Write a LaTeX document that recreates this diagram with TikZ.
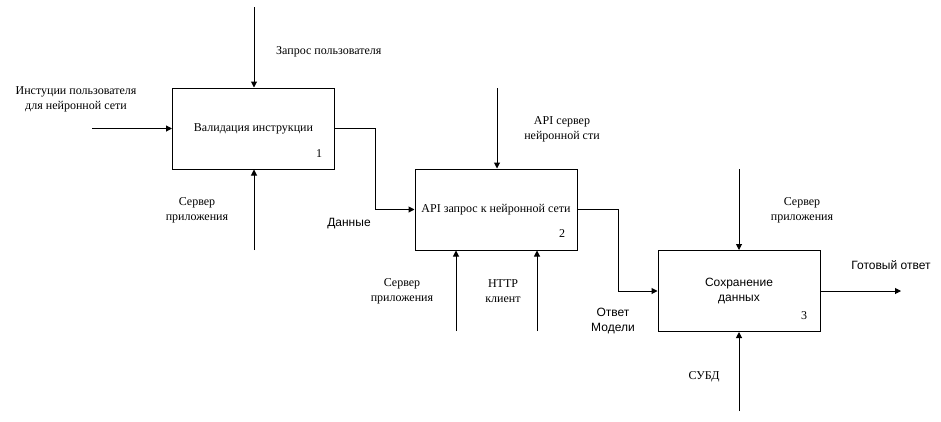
\documentclass[tikz,border=0pt]{standalone}
\usepackage{fontspec}
\setmainfont{Liberation Serif}
\newfontfamily\arialf{Liberation Sans}
\usetikzlibrary{arrows.meta}
\tikzset{
  box/.style={draw, line width=1pt, minimum width=162pt, minimum height=81pt, inner sep=0pt, font=\fontsize{12}{15}\selectfont},
  arr/.style={line width=1pt, -{Triangle[length=6pt,width=6pt]}},
  lab/.style={align=center, inner sep=0pt, font=\fontsize{12}{15}\selectfont},
  slab/.style={align=center, inner sep=0pt, font=\arialf\fontsize{12}{15}\selectfont},
  num/.style={inner sep=0pt, font=\fontsize{12}{15}\selectfont}
}
\begin{document}
\begin{tikzpicture}[x=1pt,y=-1pt]
\useasboundingbox (0,0) rectangle (941,421);
% boxes
\node[box] (b1) at (253.5,128.5) {Валидация инструкции};
\node[box] (b2) at (496,209.5) {API запрос к нейронной сети};
\node[box, font=\arialf\fontsize{12}{15}\selectfont, align=center] (b3) at (739,291) {Сохранение\\данных};
\node[num] (n1) at (319,154) {1};
\node[num] (n2) at (562,234) {2};
\node[num] (n3) at (804,316) {3};
% free ends
\coordinate (in1) at (92,128.5);
\coordinate (c1) at (254,7);
\coordinate (m1) at (254,250);
\coordinate (c2) at (497,88);
\coordinate (m2a) at (456,331);
\coordinate (m2b) at (537,331);
\coordinate (c3) at (739,169);
\coordinate (m3) at (739,411);
\coordinate (out3) at (901,291);
% connectors
\draw[arr] (in1) -- (b1.west);
\draw[arr] (c1) -- (c1 |- b1.north);
\draw[arr] (m1) -- (m1 |- b1.south);
\draw[arr] (b1.east) -- ++(40.5,0) |- (b2.west);
\draw[arr] (c2) -- (c2 |- b2.north);
\draw[arr] (m2a) -- (m2a |- b2.south);
\draw[arr] (m2b) -- (m2b |- b2.south);
\draw[arr] (b2.east) -- ++(40.5,0) |- (b3.west);
\draw[arr] (c3) -- (c3 |- b3.north);
\draw[arr] (m3) -- (m3 |- b3.south);
\draw[arr] (b3.east) -- (out3);
% labels
\node[lab] (l1) at (76,99) {Инстуции пользователя\\для нейронной сети};
\node[lab, anchor=west] (l2) at (276,52) {Запрос пользователя};
\node[lab] (l3) at (197,210) {Сервер\\приложения};
\node[slab] (l4) at (349,224) {Данные};
\node[lab] (l5) at (562,129.5) {API сервер\\нейронной сти};
\node[lab] (l6) at (402,291.5) {Сервер\\приложения};
\node[lab] (l7) at (503,291.5) {HTTP\\клиент};
\node[slab] (l8) at (613,321) {Ответ\\Модели};
\node[lab] (l9) at (802,210.5) {Сервер\\приложения};
\node[slab] (l10) at (891,265) {Готовый ответ};
\node[lab] (l11) at (704,377) {СУБД};
\end{tikzpicture}
\end{document}
